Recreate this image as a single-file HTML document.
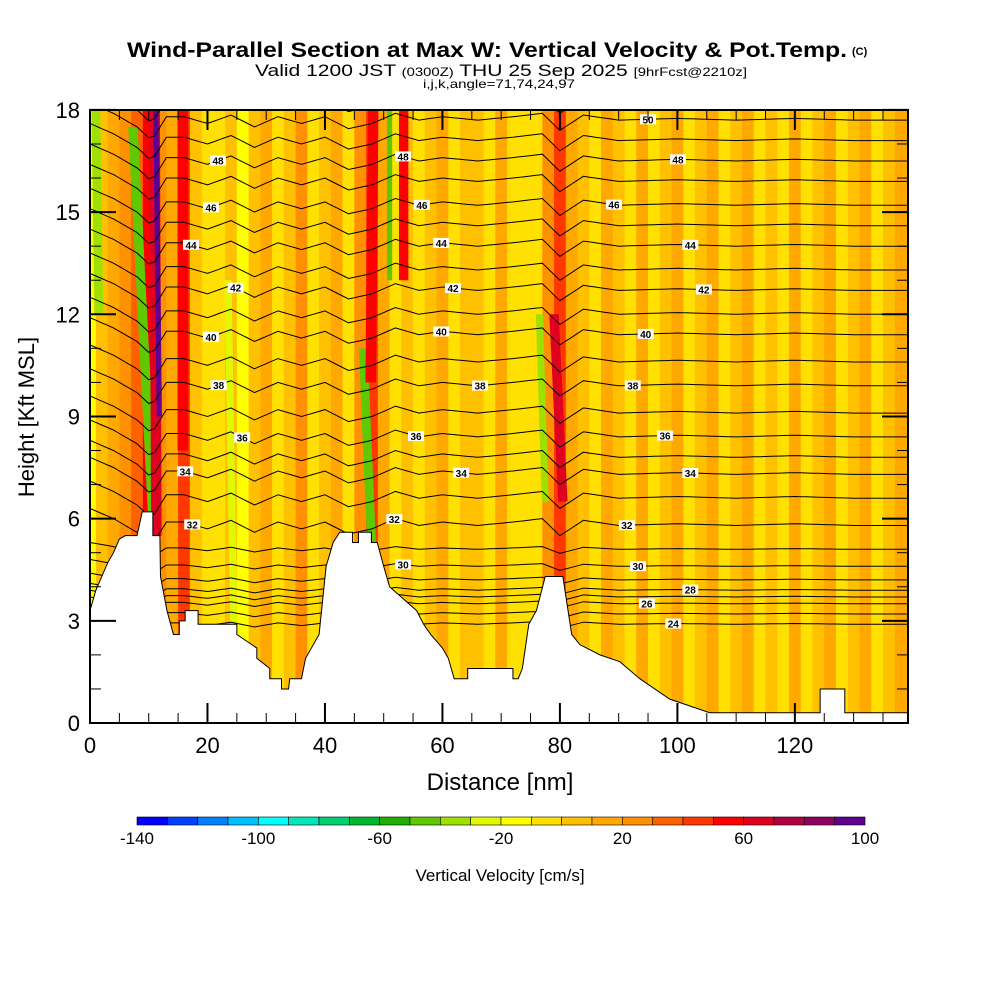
<!DOCTYPE html>
<html><head><meta charset="utf-8"><style>
body{margin:0;background:#fff;}
svg{display:block;font-family:"Liberation Sans",sans-serif;}
</style></head><body>
<svg id="chart" width="1000" height="1000" viewBox="0 0 1000 1000" xmlns="http://www.w3.org/2000/svg">
<text x="127" y="57" font-size="21" font-weight="bold" textLength="720" lengthAdjust="spacingAndGlyphs">Wind-Parallel Section at Max W: Vertical Velocity &amp; Pot.Temp.</text>
<text x="852" y="55" font-size="11" font-weight="bold">(C)</text>
<text x="255" y="76" font-size="17" textLength="492" lengthAdjust="spacingAndGlyphs"><tspan>Valid 1200 JST </tspan><tspan font-size="12">(0300Z)</tspan><tspan> THU 25 Sep 2025 </tspan><tspan font-size="12">[9hrFcst@2210z]</tspan></text>
<text x="423" y="88" font-size="12" textLength="152" lengthAdjust="spacingAndGlyphs">i,j,k,angle=71,74,24,97</text>
<defs><clipPath id="pc"><rect x="90" y="110" width="818" height="613"/></clipPath></defs>
<g id="field" clip-path="url(#pc)"></g>
<rect x="90" y="110" width="818" height="613" fill="none" stroke="#000" stroke-width="2"/>
<g id="axes"></g>
<text x="500" y="790" text-anchor="middle" font-size="24">Distance [nm]</text>
<text transform="translate(34,417) rotate(-90)" text-anchor="middle" font-size="22">Height [Kft MSL]</text>
<g id="cbar"></g>
<text x="500" y="881" text-anchor="middle" font-size="17">Vertical Velocity [cm/s]</text>
</svg>
<script>
// ---- data ----
const palette=["#0000ff","#0040ff","#0080ff","#00bfff","#00ffff","#00e8b8","#00d070","#00b830","#20b000","#60c800","#a0e000","#e0f800","#ffff00","#ffe000","#ffc000","#ffa800","#ff9000","#ff6000","#ff3800","#ff0000","#e00020","#b00040","#900060","#600090"];
const cbarTicks=[-140,-100,-60,-20,20,60,100];
const colX=[0,2,4,6,8,10,12,14,16,18,20,22,24,26,28,30,32,34,36,38,40,42,44,46,48,50,52,54,56,58,60,62,64,66,68,70,72,74,76,78,80,82,84,86,88,90,92,94,96,98,100,102,104,106,108,110,112,114,116,118,120,122,124,126,128,130,132,134,136,138];
const colW=[-20,5,15,20,30,50,20,15,40,5,-5,-5,5,-15,5,15,-5,5,20,-5,5,15,-10,20,40,15,-5,5,-5,5,15,-5,5,5,-5,15,-5,-5,-5,20,40,15,5,-5,15,5,-5,15,-5,5,15,-5,5,15,-5,5,15,-5,5,-5,15,-5,5,15,-5,5,15,-5,5,15];
// streaks: bottom x, top x, bottom h, top h, width nm, w
const streakX0=[10.7,11.3,11.8,15.8,24.5,48,47.8,51,53.4,80.5,77.5,1.5];
const streakX1=[7.3,11.0,11.2,15.8,23.5,46.5,48.2,51,53.4,79,76.5,1.0];
const streakH0=[6,5.5,9,8,2.5,5,10,13,13,6.5,6.5,12];
const streakH1=[17.5,18,18,18,13,11,18,18,18,12,12,18];
const streakWd=[1.6,1.8,0.9,1.8,1.2,1.5,1.8,0.9,1.6,1.6,1.2,1.5];
const streakW=[-50,60,90,55,-30,-45,55,-50,55,60,-40,-40];
// terrain (nm, kft)
const terrX=[0,1,2,3,4,5,6,8,8.9,10.7,10.7,11.9,12,13.1,14.2,15.2,15.2,16.2,16.2,18.4,18.4,25,25,28.4,28.4,30.6,30.6,32.6,32.6,33.8,34,36,36.7,39,40.2,41.4,42.5,44.7,44.7,45.7,45.7,47.9,47.9,48.9,50,51,55.6,56.8,58,60,61,62,64.3,64.3,72,72,72.9,73.6,74.7,76,77.5,80.5,82,83.4,86.8,90.2,93.6,98.7,105.5,124.3,124.3,128.5,128.5,131,140];
const terrH=[3.3,3.9,4.3,4.7,5.0,5.4,5.5,5.5,6.2,6.2,5.5,5.5,4.3,3.3,2.6,2.6,3.0,3.0,3.3,3.3,2.9,2.9,2.6,2.2,1.9,1.6,1.3,1.3,1.0,1.0,1.3,1.3,1.9,2.6,4.6,5.3,5.6,5.6,5.3,5.3,5.6,5.6,5.3,5.3,4.6,4.0,3.3,2.9,2.6,2.2,1.9,1.3,1.3,1.6,1.6,1.3,1.3,1.6,2.9,3.3,4.3,4.3,2.6,2.3,2.0,1.8,1.3,0.7,0.3,0.3,1.0,1.0,0.3,0.3,0.3];
// isentropes
const thetaLevels=[24,25,26,27,28,29,30,31,32,33,34,35,36,37,38,39,40,41,42,43,44,45,46,47,48,49,50,51];
const thetaHeights=[2.9,3.2,3.5,3.7,3.9,4.2,4.6,5.1,5.8,6.6,7.3,7.8,8.4,9.1,9.9,10.6,11.4,12.0,12.7,13.3,14.0,14.6,15.2,15.9,16.5,17.1,17.7,18.2];
const waveX=[0,4,8,10.5,13,16,20,24,28,32,36,40,44,48,52,56,60,66,72,77,80,84,90,100,110,120,130,140];
const waveH=[0.5,0.2,-0.2,-0.6,0.1,0.1,-0.1,0.15,-0.2,0.1,-0.1,0.1,-0.25,-0.1,0.2,0.0,0.1,0.0,0.1,0.2,-0.3,0.15,0.0,0.05,0.0,0.05,0.0,0.0];
const labelTheta=[50,48,48,48,46,46,46,44,44,44,42,42,42,40,40,40,38,38,38,36,36,36,34,34,34,32,32,32,30,30,28,26,24];
const labelX=[95,21.8,53.3,100.1,20.6,56.5,89.2,17.2,59.8,102.2,24.8,61.8,104.5,20.6,59.8,94.6,21.9,66.4,92.4,25.9,55.5,97.9,16.2,63.2,102.2,17.4,51.8,91.4,53.3,93.3,102.2,94.8,99.3];
const xTicks=[0,20,40,60,80,100,120];
const yTicks=[0,3,6,9,12,15,18];
// ---- scales ----
const X=n=>90+n*5.874, Y=h=>723-h*34.06;
const NS="http://www.w3.org/2000/svg";
function mk(tag,attrs,parent){const e=document.createElementNS(NS,tag);for(const k in attrs)e.setAttribute(k,attrs[k]);parent.appendChild(e);return e;}
const colOf=w=>palette[Math.max(0,Math.min(23,Math.floor((w+140)/10)))];
const field=document.getElementById('field');
colX.forEach((x,i)=>{const r=mk('rect',{x:X(x-1),y:110,width:5.874*2+0.5,height:613,fill:colOf(colW[i])},field);

});
streakX0.forEach((x0,i)=>{const w=streakWd[i]/2,x1=streakX1[i];
const p=mk('polygon',{points:`${X(x0-w)},${Y(streakH0[i])} ${X(x0+w)},${Y(streakH0[i])} ${X(x1+w)},${Y(streakH1[i])} ${X(x1-w)},${Y(streakH1[i])}`,fill:colOf(streakW[i])},field);

});
function wave(n){for(let i=0;i<waveX.length-1;i++){if(n<=waveX[i+1]){const t=(n-waveX[i])/(waveX[i+1]-waveX[i]);return waveH[i]+t*(waveH[i+1]-waveH[i]);}}return 0;}
function thH(th,n){const i=thetaLevels.indexOf(th);const amp=th<32?0.4:1;return thetaHeights[i]+wave(n)*amp;}
thetaLevels.forEach(th=>{let d='';for(let n=0;n<=140;n+=1){d+=(n?'L':'M')+X(n).toFixed(1)+','+Y(thH(th,n)).toFixed(1);}
const l=mk('path',{d,fill:'none',stroke:'#000','stroke-width':1},field);

});
let td='M'+X(0)+','+Y(0);terrX.forEach((x,i)=>{td+='L'+X(x)+','+Y(terrH[i]);});td+='L'+X(140)+','+Y(0)+'Z';
const terr=mk('path',{d:td,fill:'#fff',stroke:'#000','stroke-width':1},field);


labelTheta.forEach((th,i)=>{const cx=X(labelX[i]),cy=Y(thH(th,labelX[i]));
const g=mk('g',{},field);


mk('rect',{x:cx-8,y:cy-5,width:16,height:10,fill:'#fff'},g);
const t=mk('text',{x:cx,y:cy+4,'text-anchor':'middle','font-size':10,'font-weight':'bold'},g);t.textContent=th;});
// axes
const ax=document.getElementById('axes');
for(let n=0;n<=135;n+=5){const maj=n%20===0,len=maj?20:10;
mk('line',{x1:X(n),y1:723,x2:X(n),y2:723-len,stroke:'#000','stroke-width':maj?2:1},ax);
mk('line',{x1:X(n),y1:110,x2:X(n),y2:110+len,stroke:'#000','stroke-width':maj?2:1},ax);}
for(let h=0;h<=18;h++){const maj=h%3===0,len=maj?26:11;
mk('line',{x1:90,y1:Y(h),x2:90+len,y2:Y(h),stroke:'#000','stroke-width':maj?2:1},ax);
mk('line',{x1:908,y1:Y(h),x2:908-len,y2:Y(h),stroke:'#000','stroke-width':maj?2:1},ax);}
xTicks.forEach(v=>{const t=mk('text',{x:X(v),y:753,'text-anchor':'middle','font-size':22},ax);t.textContent=v;

});
yTicks.forEach(v=>{const t=mk('text',{x:80,y:Y(v)+8,'text-anchor':'end','font-size':22},ax);t.textContent=v;

});
// colorbar
const cb=document.getElementById('cbar');const cx0=137,cw=728/24;
palette.forEach((c,i)=>{const r=mk('rect',{x:cx0+i*cw,y:817,width:cw,height:8,fill:c,stroke:'#000','stroke-width':0.6},cb);

});
cbarTicks.forEach(v=>{const t=mk('text',{x:cx0+(v+140)/240*728,y:844,'text-anchor':'middle','font-size':17},cb);t.textContent=v;

});
</script>
</body></html>
